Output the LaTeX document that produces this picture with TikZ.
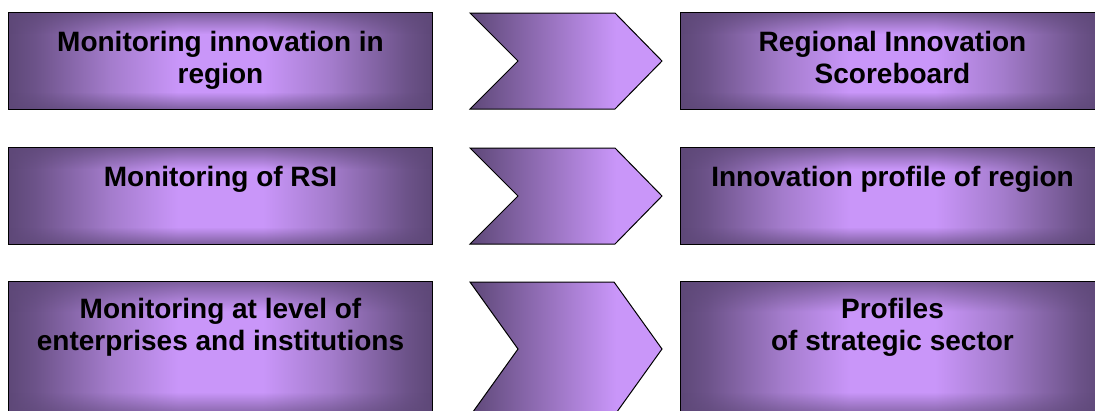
\documentclass[tikz,border=0pt]{standalone}
\usepackage{fontspec}
\setmainfont{Liberation Sans}
\usetikzlibrary{fadings}
\definecolor{cd}{HTML}{5E4878}
\definecolor{cm}{HTML}{A47CCC}
\definecolor{cl}{HTML}{C996F9}
% path bounding box maps to the central 50bp square of a shading
\pgfdeclarehorizontalshading{glow}{100bp}{color(0bp)=(cd); color(25bp)=(cd); color(28bp)=(cd!80!cm); color(37bp)=(cm); color(45bp)=(cl); color(55bp)=(cl); color(63bp)=(cm); color(72bp)=(cd!80!cm); color(75bp)=(cd); color(100bp)=(cd)}
\pgfdeclarehorizontalshading{chevshade}{100bp}{color(0bp)=(cd); color(25bp)=(cd); color(63bp)=(cl); color(100bp)=(cl)}
\pgfdeclareverticalshading{tbmask}{100bp}{color(0bp)=(black!30); color(25bp)=(black!30); color(34bp)=(black); color(64bp)=(black); color(75bp)=(black!30); color(100bp)=(black!30)}
\pgfdeclarefading{tbfade}{\pgfuseshading{tbmask}}
\tikzset{
  box/.style={rectangle, inner sep=0pt, shading=glow, minimum width=423pt},
  boxline/.style={draw=black, line width=1pt},
  band/.style={fill=cd, path fading=tbfade},
  chevron/.style={shading=chevshade, draw=black, line width=1pt, line join=miter},
  lbl/.style={font=\fontsize{28}{32}\selectfont\bfseries, anchor=base, inner sep=0pt, text=black}
}
\begin{document}
\begin{tikzpicture}[x=1pt,y=-1pt]
\useasboundingbox (0,0) rectangle (1095,410);
\clip (0,0) rectangle (1095,410);
% boxes
\node[box, minimum height=96pt]  (L1) at (220.5,61) {};
\node[box, minimum height=96pt]  (L2) at (220.5,196) {};
\node[box, minimum height=134pt] (L3) at (220.5,349) {};
\node[box, minimum height=96pt]  (R1) at (892.5,61) {};
\node[box, minimum height=96pt]  (R2) at (892.5,196) {};
\node[box, minimum height=134pt] (R3) at (892.5,349) {};
\foreach \b in {L1,L2,L3,R1,R2,R3}{
  \fill[band] (\b.north west) rectangle (\b.south east);
  \draw[boxline] (\b.north west) rectangle (\b.south east);
}
% chevrons
\path[chevron] (470,13) -- (615,13) -- (662,61) -- (615,109) -- (470,109) -- (518,61) -- cycle;
\path[chevron] (470,148) -- (615,148) -- (662,196) -- (615,244) -- (470,244) -- (518,196) -- cycle;
\path[chevron] (470,282) -- (614,282) -- (662,349) -- (614,416) -- (470,416) -- (518,349) -- cycle;
% labels
\node[lbl] (t1) at (220.5,51) {\begin{tabular}[t]{@{}c@{}}Monitoring innovation in\\region\end{tabular}};
\node[lbl] (t2) at (220.5,186) {Monitoring of RSI};
\node[lbl] (t3) at (220.5,318) {\begin{tabular}[t]{@{}c@{}}Monitoring at level of\\enterprises and institutions\end{tabular}};
\node[lbl] (u1) at (892.5,51) {\begin{tabular}[t]{@{}c@{}}Regional Innovation\\Scoreboard\end{tabular}};
\node[lbl] (u2) at (892.5,186) {Innovation profile of region};
\node[lbl] (u3) at (892.5,318) {\begin{tabular}[t]{@{}c@{}}Profiles\\of strategic sector\end{tabular}};
\end{tikzpicture}
\end{document}
